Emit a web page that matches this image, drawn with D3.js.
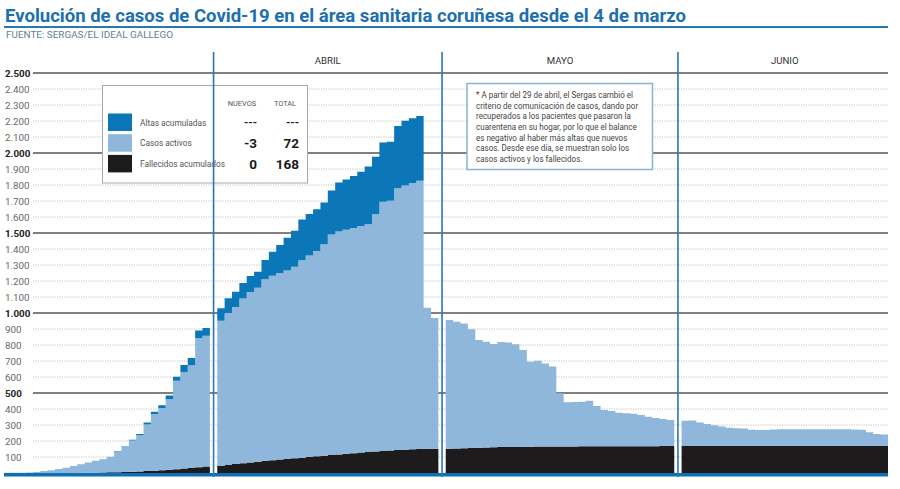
<!DOCTYPE html>
<html><head><meta charset="utf-8">
<script src="https://cdn.jsdelivr.net/npm/d3@7"></script>
<style>
body{margin:0;background:#fff}
svg{display:block}
text{font-family:Roboto,"Noto Sans",sans-serif}
</style>
</head><body>
<svg id="c" width="900" height="489"></svg>
<script>
// ---------- DATA ----------
const titleText = "Evolución de casos de Covid-19 en el área sanitaria coruñesa desde el 4 de marzo";
const sourceText = "FUENTE: SERGAS/EL IDEAL GALLEGO";
const months = ["MARZO", "ABRIL", "MAYO", "JUNIO"];
const monthDays = [28, 30, 31, 28];           // 4 marzo .. 28 junio
const monthLabelShown = [false, true, true, true];
const yTicks = [100,200,300,400,500,600,700,800,900,1000,1100,1200,1300,1400,1500,1600,1700,1800,1900,2000,2100,2200,2300,2400,2500];

const fallecidos = [
  // marzo
  0,0,0,0,0,0,0,0,0,0,1,1,2,3,4,5,7,8,10,12,14,17,20,24,28,32,36,40,
  // abril
  44,50,56,61,66,71,76,80,84,88,92,96,100,104,108,112,116,120,124,128,131,134,137,140,143,146,148,150,151,152,
  // mayo
  152,153,154,156,158,160,161,162,163,163,164,164,165,165,165,166,166,166,167,167,167,167,167,167,167,167,167,167,167,168,168,
  // junio
  168,168,168,168,168,168,168,168,168,168,168,168,168,168,168,168,168,168,168,168,168,168,168,168,168,168,168,168
];
const activos = [
  1,1,2,3,6,12,17,25,33,44,53,65,74,83,97,130,155,195,226,291,354,389,441,552,602,641,808,818,
  908,950,982,1030,1065,1087,1135,1153,1166,1178,1197,1234,1259,1284,1322,1378,1394,1400,1407,1415,1424,1483,1558,1561,1636,1651,1664,1676,882,816,
  804,793,781,742,673,661,645,657,652,641,605,532,537,520,500,332,276,278,279,285,252,227,221,210,206,204,196,185,177,170,163,
  159,160,147,138,130,122,115,111,110,102,101,101,104,105,105,105,106,106,106,106,105,105,105,104,102,86,75,72
];
// altas acumuladas: solo hasta el 28 de abril
const altas = [
  0,0,0,0,0,0,0,0,0,0,0,0,0,0,1,2,3,5,8,12,15,17,24,26,45,46,46,48,
  77,92,95,97,100,100,120,150,175,205,225,255,260,260,260,275,305,315,325,340,360,360,370,370,390,405,405,405
];

const legendLabels = ["Altas acumuladas", "Casos activos", "Fallecidos acumulados"];
const legendNuevos = ["---", "-3", "0"];
const legendTotal = ["---", "72", "168"];
const legendHeaders = ["NUEVOS", "TOTAL"];

const noteLines = [
  "* A partir del 29 de abril, el Sergas cambió el",
  "criterio de comunicación de casos, dando por",
  "recuperados a los pacientes que pasaron la",
  "cuarentena en su hogar, por lo que el balance",
  "es negativo al haber más altas que nuevos",
  "casos. Desde ese día, se muestran solo los",
  "casos activos y los fallecidos."
];

// ---------- CHART ----------
const svg = d3.select("#c");
const fmt = d3.formatLocale({decimal: ",", thousands: ".", grouping: [3], currency: ["", "€"]}).format(",");

const C = {
  title: "#1d6fb0",
  altas: "#0b76b8",
  activos: "#8fb7db",
  fallecidos: "#1d1b1c",
  divider: "#2878b6",
  base: "#0d6fb5"
};

// rows with slot index (one empty slot between months)
const rows = [];
let idx = 0;
monthDays.forEach((n, m) => {
  for (let k = 0; k < n; k++) {
    rows.push({i: idx, m, slot: idx + m,
      fallecidos: fallecidos[idx], activos: activos[idx], altas: altas[idx] ?? 0});
    idx++;
  }
});
const nSlots = rows.length + months.length - 1;

const x = d3.scaleLinear().domain([0, nSlots]).range([3.5, 888]);
const y = d3.scaleLinear().domain([0, 2500]).range([473, 73]);

// title
function fit(sel, w) {
  const n = sel.node().getComputedTextLength();
  if (Math.abs(n - w) > 1) sel.attr("textLength", w).attr("lengthAdjust", "spacingAndGlyphs");
}
const t = svg.append("text").attr("x", 5).attr("y", 22).attr("font-size", 18.5)
  .attr("font-weight", 700).attr("fill", C.title).text(titleText);
fit(t, 681);
svg.append("line").attr("x1", 4).attr("x2", 888).attr("y1", 27).attr("y2", 27)
  .attr("stroke", C.divider).attr("stroke-width", 2);
const s = svg.append("text").attr("x", 6).attr("y", 37.5).attr("font-size", 8.8)
  .attr("fill", "#5f7f96").text(sourceText);
fit(s, 167);

// grid
const grid = svg.append("g");
yTicks.forEach(v => {
  const major = v % 500 === 0;
  grid.append("line").attr("x1", 33).attr("x2", 888).attr("y1", y(v)).attr("y2", y(v))
    .attr("stroke", major ? "#555" : "#c4c4c4")
    .attr("stroke-width", major ? 1.6 : 1)
    .attr("stroke-dasharray", major ? null : "1.2,1.2");
  grid.append("text").attr("x", 5).attr("y", y(v) + 3.6).attr("font-size", 9.8)
    .attr("font-weight", major ? 700 : 400).attr("fill", major ? "#222" : "#666")
    .text(fmt(v));
});

// stacked step areas
const keys = ["fallecidos", "activos", "altas"];
const stacked = d3.stack().keys(keys)(rows);
const area = d3.area().curve(d3.curveStepAfter)
  .x(p => x(p.xs)).y0(p => y(p.y0)).y1(p => y(p.y1));
const bars = svg.append("g");
stacked.forEach(ser => {
  months.forEach((mn, m) => {
    const pts = ser.filter(d => d.data.m === m).map(d => ({xs: d.data.slot, y0: d[0], y1: d[1]}));
    const last = pts[pts.length - 1];
    pts.push({xs: last.xs + 1, y0: last.y0, y1: last.y1});
    bars.append("path").attr("d", area(pts)).attr("fill", C[ser.key]);
  });
});

// baseline
svg.append("rect").attr("x", 4).attr("y", y(0)).attr("width", 884).attr("height", 3.5).attr("fill", C.base);

// month labels
months.forEach((mn, m) => {
  const r = rows.filter(d => d.m === m);
  const a = r[0].slot, b = r[r.length - 1].slot + 1;
  if (monthLabelShown[m]) {
    svg.append("text").attr("x", x((a + b) / 2)).attr("y", 64).attr("text-anchor", "middle")
      .attr("font-size", 9.6).attr("fill", "#333").text(mn);
  }
});

// legend box
const lg = svg.append("g");
lg.append("rect").attr("x", 102.5).attr("y", 85.5).attr("width", 205).attr("height", 97.5)
  .attr("fill", "#fff").attr("stroke", "#a8a8a8").attr("stroke-width", 1);
lg.append("text").attr("x", 242).attr("y", 106).attr("text-anchor", "middle").attr("font-size", 7.4)
  .attr("fill", "#555").text(legendHeaders[0]);
lg.append("text").attr("x", 285).attr("y", 106).attr("text-anchor", "middle").attr("font-size", 7.4)
  .attr("fill", "#555").text(legendHeaders[1]);
const swCol = [C.altas, C.activos, C.fallecidos];
legendLabels.forEach((lab, k) => {
  const cy = 122.5 + k * 20.7;
  lg.append("rect").attr("x", 108).attr("y", cy - 9).attr("width", 24).attr("height", 17.5).attr("fill", swCol[k]);
  const tt = lg.append("text").attr("x", 140).attr("y", cy + 3).attr("font-size", 8.3)
    .attr("fill", "#555").text(lab);
  const big = legendNuevos[k] !== "---";
  lg.append("text").attr("x", 257).attr("y", cy + (big ? 5 : 3)).attr("text-anchor", "end")
    .attr("font-size", big ? 13.5 : 11).attr("font-weight", 700).attr("fill", "#1a1a1a").text(legendNuevos[k]);
  lg.append("text").attr("x", 299).attr("y", cy + (big ? 5 : 3)).attr("text-anchor", "end")
    .attr("font-size", big ? 13.5 : 11).attr("font-weight", 700).attr("fill", "#1a1a1a").text(legendTotal[k]);
});

// note box
const ng = svg.append("g");
ng.append("rect").attr("x", 467).attr("y", 83.5).attr("width", 185.5).attr("height", 86)
  .attr("fill", "#fff").attr("stroke", "#86b2d6").attr("stroke-width", 1.5);
const probe = ng.append("text").attr("font-size", 8.2).text(noteLines[0]);
const k = 157 / probe.node().getComputedTextLength();
probe.remove();
const ngt = ng.append("g").attr("transform", `translate(476,0) scale(${k},1)`);
noteLines.forEach((ln, i) => {
  ngt.append("text").attr("x", 0).attr("y", 98 + i * 10.65).attr("font-size", 8.2)
    .attr("fill", "#444").text(ln);
});

// month dividers (drawn on top)
months.forEach((mn, m) => {
  if (m === 0) return;
  const first = rows.find(d => d.m === m).slot;
  const xx = x(first - 0.5);
  svg.append("line").attr("x1", xx).attr("x2", xx).attr("y1", 52).attr("y2", 477)
    .attr("stroke", C.divider).attr("stroke-width", 1.6);
});
</script>
</body></html>
